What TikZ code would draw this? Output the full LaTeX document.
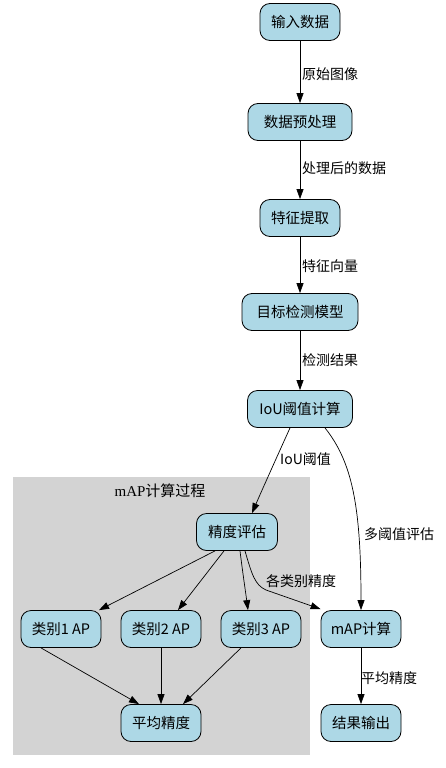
\documentclass[tikz,border=0pt]{standalone}
\usepackage{fontspec}
\setmainfont{Noto Sans CJK SC}
\newfontfamily\serifl{Liberation Serif}
\usetikzlibrary{arrows.meta}
\definecolor{nodeblue}{HTML}{ADD8E6}
\definecolor{clustergray}{HTML}{D3D3D3}
\begin{document}
\begin{tikzpicture}[x=1pt,y=-1pt,
  box/.style={draw=black, fill=nodeblue, rounded corners=10pt, minimum height=37pt, inner xsep=8pt, font=\fontsize{14.5}{16}\selectfont, line width=0.8pt},
  arr/.style={-{Triangle[length=10pt,width=7pt]}, line width=0.7pt},
  lab/.style={font=\fontsize{14}{16}\selectfont, inner sep=0pt, anchor=west}
]
\useasboundingbox (0,0) rectangle (446,768);
\fill[clustergray] (13,477) rectangle (310,755);
\node[font=\fontsize{15}{16}\selectfont] (cl) at (160,491) {{\serifl mAP}计算过程};

\node[box, minimum width=80pt] (in) at (300,22) {输入数据};
\node[box, minimum width=104pt] (pre) at (300,122) {数据预处理};
\node[box, minimum width=80pt] (feat) at (300,218) {特征提取};
\node[box, minimum width=116pt] (det) at (300,312) {目标检测模型};
\node[box, minimum width=105pt] (iou) at (300,409) {IoU阈值计算};
\node[box, minimum width=81pt] (eval) at (237,532) {精度评估};
\node[box, minimum width=80pt] (c1) at (61,629) {类别1 AP};
\node[box, minimum width=80pt] (c2) at (161,629) {类别2 AP};
\node[box, minimum width=80pt] (c3) at (261,629) {类别3 AP};
\node[box, minimum width=80pt] (mapc) at (361,629) {mAP计算};
\node[box, minimum width=80pt] (avg) at (161,723) {平均精度};
\node[box, minimum width=80pt] (out) at (361,723) {结果输出};

\draw[arr] (in) -- (pre);
\node[lab] (l1) at (302,74) {原始图像};
\draw[arr] (pre) -- (feat);
\node[lab] (l2) at (302,168) {处理后的数据};
\draw[arr] (feat) -- (det);
\node[lab] (l3) at (302,266) {特征向量};
\draw[arr] (det) -- (iou);
\node[lab] (l4) at (302,360) {检测结果};

\draw[arr] ([xshift=-10pt]iou.south) .. controls (280,450) and (262,490) .. ([xshift=15pt]eval.north);
\node[lab] (l5) at (280,459) {IoU阈值};
\draw[arr] ([xshift=25pt]iou.south) .. controls (352,462) and (361,505) .. (mapc.north);
\node[lab] (l6) at (364,534) {多阈值评估};

\draw[arr] ([xshift=-22pt]eval.south) -- ([xshift=38pt]c1.north);
\draw[arr] ([xshift=-13pt]eval.south) -- ([xshift=17pt]c2.north);
\draw[arr] ([xshift=3pt]eval.south) .. controls (243,575) and (246,595) .. ([xshift=-13pt]c3.north);
\draw[arr] ([xshift=8pt]eval.south) .. controls (252,575) and (255,585) .. (266,590) -- ([yshift=1pt]mapc.north west);
\node[lab] (l7) at (266,581) {各类别精度};

\draw[arr] ([xshift=-20pt]c1.south) -- ([xshift=-22pt]avg.north);
\draw[arr] (c2) -- (avg);
\draw[arr] ([xshift=-20pt]c3.south) -- ([xshift=22pt]avg.north);
\draw[arr] (mapc) -- (out);
\node[lab] (l8) at (361,678) {平均精度};
\end{tikzpicture}
\end{document}
